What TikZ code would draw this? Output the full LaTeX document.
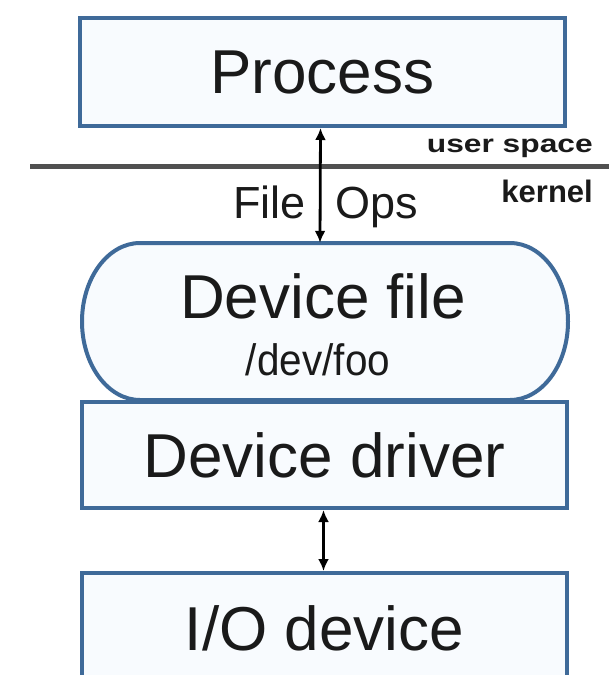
\documentclass[tikz,border=0pt]{standalone}
\usepackage{fontspec}
\usepackage{graphicx}
\setmainfont{Liberation Sans}
\usetikzlibrary{arrows.meta}

\definecolor{boxline}{HTML}{3F6A99}
\definecolor{boxfill}{HTML}{F8FBFE}
\definecolor{ink}{HTML}{1A1A1A}
\definecolor{sepline}{HTML}{505050}

\tikzset{
  box/.style={draw=boxline, line width=4pt, fill=boxfill, rectangle,
    inner sep=0pt, text=ink, font=\fontsize{62}{62}\selectfont},
  biarrow/.style={line width=2.8pt, draw=black,
    {Latex[length=12pt,width=11pt]}-{Latex[length=12pt,width=11pt]}},
  smalltext/.style={inner sep=0pt, text=ink},
}

\begin{document}
\begin{tikzpicture}[x=1pt, y=-1pt]
  \useasboundingbox (0,0) rectangle (609,675);
  \clip (0,0) rectangle (609,675);
  \fill[white] (0,0) rectangle (609,675);

  % process in user space
  \node[box, minimum width=485pt, minimum height=108pt] (proc) at (322.5,72) {Process};

  % user space / kernel boundary
  \coordinate (sepL) at (30,166);
  \coordinate (sepR) at (609,166);
  \draw[sepline, line width=5pt] (sepL) -- (sepR);
  \node[smalltext, anchor=base east, font=\bfseries\fontsize{25}{25}\selectfont] (us) at (593,152)
    {\scalebox{1.27}[1]{user space}};
  \node[smalltext, anchor=base east, font=\bfseries\fontsize{31}{31}\selectfont] (kn) at (593,202) {kernel};

  % device file: a pill with elliptical ends
  \node[minimum width=486pt, minimum height=157pt, inner sep=0pt] (dfile) at (325,321.5) {};
  \filldraw[draw=boxline, fill=boxfill, line width=4pt]
    (140,243) -- (510,243)
    arc[start angle=90, end angle=-90, x radius=58pt, y radius=78.5pt]
    -- (140,400)
    arc[start angle=270, end angle=90, x radius=58pt, y radius=78.5pt]
    -- cycle;
  \node[smalltext, anchor=base, font=\fontsize{62}{62}\selectfont] (dfname) at (323,318) {Device file};
  \node[smalltext, anchor=base, font=\fontsize{44}{44}\selectfont] (dfpath) at (318,375)
    {\scalebox{0.92}[1]{/dev/foo}};

  % driver and hardware
  \node[box, minimum width=485pt, minimum height=106pt] (drv) at (324.5,455) {Device driver};
  \node[box, minimum width=485pt, minimum height=110pt] (io) at (324.5,628) {I/O device};

  % file operations crossing the boundary
  \draw[biarrow] ([xshift=-2pt]proc.south) -- ([xshift=-5pt]dfile.north);
  \node[smalltext, anchor=base east, font=\fontsize{45}{45}\selectfont] (fl) at (306,218) {File};
  \node[smalltext, anchor=base west, font=\fontsize{45}{45}\selectfont] (ops) at (335,218) {Ops};

  % driver talks to the device
  \draw[biarrow] ([xshift=-1pt]drv.south) -- ([xshift=-1pt]io.north);
\end{tikzpicture}
\end{document}
